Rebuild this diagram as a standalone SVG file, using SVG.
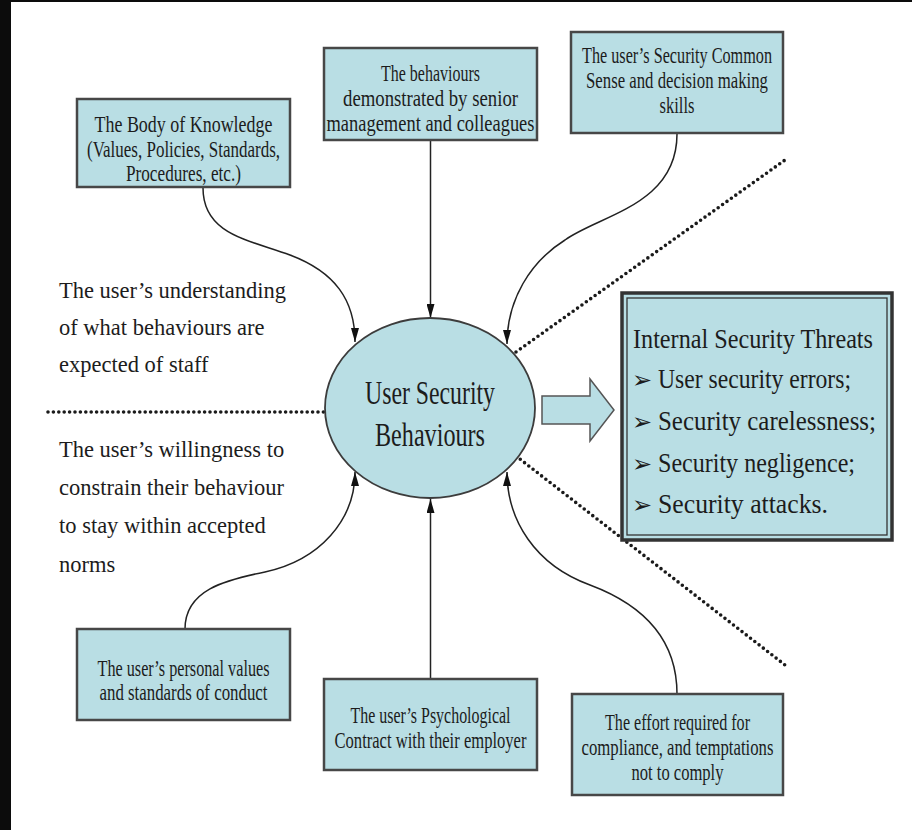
<svg xmlns="http://www.w3.org/2000/svg" width="912" height="830" viewBox="0 0 912 830">
<defs>
<style>
.box{fill:#b9dee4;stroke:#474747;stroke-width:2.5}
.bt{font-family:"Liberation Serif",serif;font-size:23.5px;fill:#1c1c1c;text-anchor:middle}
.et{font-family:"Liberation Serif",serif;font-size:34px;fill:#1c1c1c;text-anchor:middle}
.lt{font-family:"Liberation Serif",serif;font-size:22.5px;fill:#1c1c1c}
.tt{font-family:"Liberation Serif",serif;font-size:28px;fill:#1c1c1c}
.bul{font-family:"DejaVu Sans",sans-serif;font-size:24px;fill:#1c1c1c}
.con{fill:none;stroke:#222;stroke-width:1.5}
.dot{fill:none;stroke:#1a1a1a;stroke-width:3.6;stroke-linecap:round;stroke-dasharray:0 5.4}
</style>
<marker id="ah" viewBox="0 0 14 8" refX="14" refY="4" markerWidth="14" markerHeight="8" markerUnits="userSpaceOnUse" orient="auto">
<path d="M0,0 L14,4 L0,8 z" fill="#111"/>
</marker>
</defs>
<rect x="0" y="0" width="912" height="830" fill="#ffffff"/>
<rect x="0" y="0" width="11" height="830" fill="#0c0c0c"/>
<rect x="0" y="0" width="912" height="2" fill="#0c0c0c"/>

<g id="dividers">
<line class="dot" x1="48" y1="412" x2="324" y2="412"/>
<line class="dot" x1="516" y1="352" x2="785" y2="160"/>
<line class="dot" x1="516" y1="456" x2="785" y2="665"/>
</g>

<g id="connectors">
<path class="con" d="M203,188 C203,235 250,240 290,255 C335,272 355,300 355,342" marker-end="url(#ah)"/>
<path class="con" d="M430.5,141 L430.5,318" marker-end="url(#ah)"/>
<path class="con" d="M677,134 C677,205 600,215 565,240 C530,262 507,300 507,344" marker-end="url(#ah)"/>
<path class="con" d="M185,629 C185,590 225,580 265,572 C320,560 355,520 355,472" marker-end="url(#ah)"/>
<path class="con" d="M430.5,679 L430.5,499" marker-end="url(#ah)"/>
<path class="con" d="M677,694 C677,630 630,600 590,585 C535,565 507,520 507,472" marker-end="url(#ah)"/>
</g>

<g id="node-knowledge">
<rect class="box" x="77" y="99" width="213" height="88"/>
<text class="bt" x="183.5" y="131.5" textLength="178" lengthAdjust="spacingAndGlyphs">The Body of Knowledge</text>
<text class="bt" x="183.5" y="156.5" textLength="193" lengthAdjust="spacingAndGlyphs">(Values, Policies, Standards,</text>
<text class="bt" x="183.5" y="181" textLength="115" lengthAdjust="spacingAndGlyphs">Procedures, etc.)</text>
</g>

<g id="node-behaviours">
<rect class="box" x="324" y="48" width="213" height="92"/>
<text class="bt" x="430.5" y="81" textLength="99" lengthAdjust="spacingAndGlyphs">The behaviours</text>
<text class="bt" x="430.5" y="106" textLength="175" lengthAdjust="spacingAndGlyphs">demonstrated by senior</text>
<text class="bt" x="430.5" y="131" textLength="208" lengthAdjust="spacingAndGlyphs">management and colleagues</text>
</g>

<g id="node-commonsense">
<rect class="box" x="571" y="32" width="212" height="101"/>
<text class="bt" x="677" y="63" textLength="190" lengthAdjust="spacingAndGlyphs">The user’s Security Common</text>
<text class="bt" x="677" y="88" textLength="182" lengthAdjust="spacingAndGlyphs">Sense and decision making</text>
<text class="bt" x="677" y="113" textLength="35" lengthAdjust="spacingAndGlyphs">skills</text>
</g>

<g id="node-center">
<ellipse cx="430" cy="408" rx="105" ry="90" fill="#b9dee4" stroke="#3c3c3c" stroke-width="1.8"/>
<text class="et" x="430" y="404" textLength="130" lengthAdjust="spacingAndGlyphs">User Security</text>
<text class="et" x="430" y="446" textLength="110" lengthAdjust="spacingAndGlyphs">Behaviours</text>
</g>

<g id="label-understanding">
<text class="lt" x="59" y="298">The user’s understanding</text>
<text class="lt" x="59" y="335">of what behaviours are</text>
<text class="lt" x="59" y="372">expected of staff</text>
</g>

<g id="label-willingness">
<text class="lt" x="59" y="457">The user’s willingness to</text>
<text class="lt" x="59" y="495">constrain their behaviour</text>
<text class="lt" x="59" y="533">to stay within accepted</text>
<text class="lt" x="59" y="572">norms</text>
</g>

<g id="block-arrow">
<path d="M542,396 L590,396 L590,379 L614,410 L590,441 L590,424 L542,424 z" fill="#b9dee4" stroke="#555" stroke-width="1.5"/>
</g>

<g id="node-threats">
<rect x="622" y="293" width="270" height="247" fill="#b9dee4" stroke="#333" stroke-width="3.5"/>
<rect x="627" y="298" width="260" height="237" fill="none" stroke="#333" stroke-width="1.3"/>
<text class="tt" x="633" y="348" textLength="240" lengthAdjust="spacingAndGlyphs">Internal Security Threats</text>
<text class="bul" x="632" y="388">➢</text>
<text class="tt" x="658" y="388" textLength="193" lengthAdjust="spacingAndGlyphs">User security errors;</text>
<text class="bul" x="632" y="430">➢</text>
<text class="tt" x="658" y="430" textLength="218" lengthAdjust="spacingAndGlyphs">Security carelessness;</text>
<text class="bul" x="632" y="472">➢</text>
<text class="tt" x="658" y="472" textLength="197" lengthAdjust="spacingAndGlyphs">Security negligence;</text>
<text class="bul" x="632" y="513">➢</text>
<text class="tt" x="658" y="513" textLength="170" lengthAdjust="spacingAndGlyphs">Security attacks.</text>
</g>

<g id="node-personal">
<rect class="box" x="77" y="629" width="213" height="91"/>
<text class="bt" x="183.5" y="676" textLength="172" lengthAdjust="spacingAndGlyphs">The user’s personal values</text>
<text class="bt" x="183.5" y="700" textLength="168" lengthAdjust="spacingAndGlyphs">and standards of conduct</text>
</g>

<g id="node-contract">
<rect class="box" x="324" y="679" width="213" height="91"/>
<text class="bt" x="430.5" y="723" textLength="160" lengthAdjust="spacingAndGlyphs">The user’s Psychological</text>
<text class="bt" x="430.5" y="748" textLength="192" lengthAdjust="spacingAndGlyphs">Contract with their employer</text>
</g>

<g id="node-effort">
<rect class="box" x="572" y="694" width="211" height="101"/>
<text class="bt" x="677.5" y="730" textLength="145" lengthAdjust="spacingAndGlyphs">The effort required for</text>
<text class="bt" x="677.5" y="755" textLength="192" lengthAdjust="spacingAndGlyphs">compliance, and temptations</text>
<text class="bt" x="677.5" y="780" textLength="92" lengthAdjust="spacingAndGlyphs">not to comply</text>
</g>
</svg>
